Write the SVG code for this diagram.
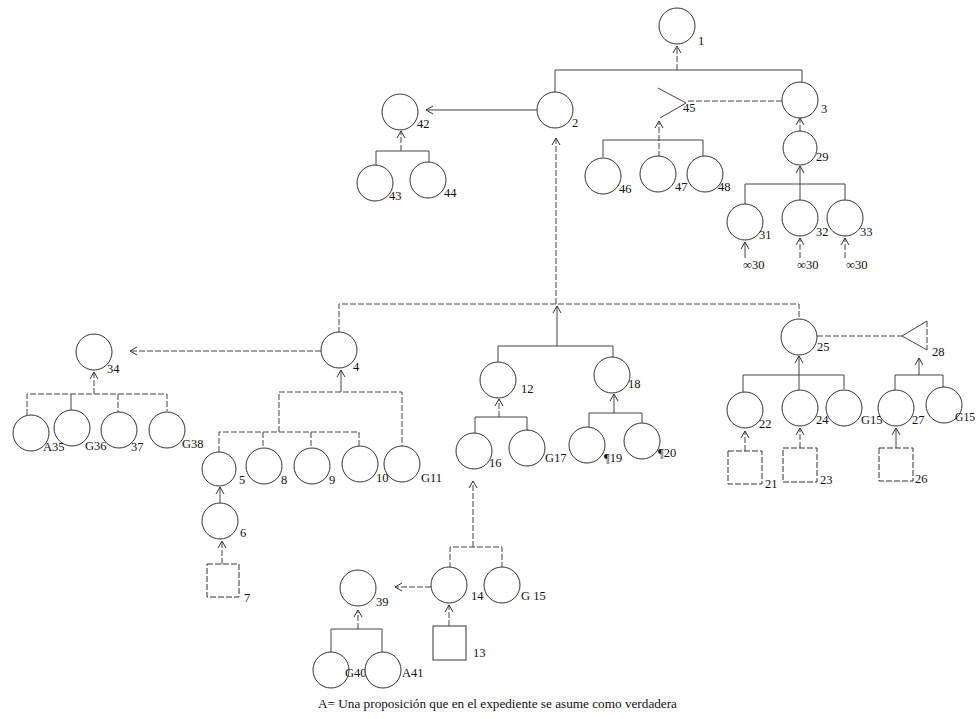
<svg xmlns="http://www.w3.org/2000/svg" width="976" height="719" viewBox="0 0 976 719">
<defs>
<marker id="arr" markerUnits="userSpaceOnUse" markerWidth="10" markerHeight="10" viewBox="0 0 10 10" refX="8" refY="5" orient="auto">
<path d="M1,1 L8,5 L1,9" fill="none" stroke="#333" stroke-width="1"/>
</marker>
<style>
.n{fill:#fff;stroke:#333;stroke-width:1}
.t{font-family:"Liberation Serif","Times New Roman",serif;font-size:12.5px;fill:#111}
.c{fill:none;stroke:#444;stroke-width:1}
.d{stroke-dasharray:6 2}
.a{marker-end:url(#arr)}
</style>
</defs>
<rect width="976" height="719" fill="#fff"/>
<g id="connectors">
<line class="c d a" x1="677" y1="70" x2="677" y2="46"/>
<path class="c" d="M555,92 V70 H802 V82"/>
<line class="c a" x1="537" y1="110" x2="426" y2="110"/>
<line class="c d a" x1="401" y1="151" x2="401" y2="131"/>
<path class="c" d="M376,165 V151 H429 V163"/>
<line class="c d" x1="688" y1="101" x2="782" y2="101"/>
<line class="c d a" x1="659" y1="157" x2="659" y2="121"/>
<path class="c" d="M603,157 V140 H703 V156"/>
<line class="c d a" x1="800" y1="131" x2="800" y2="118"/>
<line class="c a" x1="800" y1="200" x2="800" y2="166"/>
<path class="c" d="M745,204 V184 H845 V200"/>
<line class="c a" x1="745" y1="258" x2="745" y2="242"/>
<line class="c d a" x1="800" y1="258" x2="800" y2="238"/>
<line class="c d a" x1="845" y1="258" x2="845" y2="238"/>
<line class="c d a" x1="556" y1="304" x2="556" y2="138"/>
<path class="c d" d="M339,333 V304 H799 V320"/>
<line class="c a" x1="557" y1="346" x2="557" y2="306"/>
<path class="c" d="M498,363 V346 H613 V358"/>
<line class="c d a" x1="321" y1="351" x2="130" y2="351"/>
<line class="c d a" x1="94" y1="394" x2="94" y2="372"/>
<path class="c d" d="M27,415 V394 H167 V411"/>
<line class="c" x1="71" y1="394" x2="71" y2="410"/>
<line class="c d" x1="118" y1="394" x2="118" y2="412"/>
<line class="c a" x1="341" y1="392" x2="341" y2="370"/>
<path class="c d" d="M279,432 V392 H402 V447"/>
<path class="c d" d="M219,452 V432 H359 V447"/>
<line class="c d" x1="263" y1="432" x2="263" y2="448"/>
<line class="c d" x1="311" y1="432" x2="311" y2="448"/>
<line class="c a" x1="220" y1="504" x2="220" y2="487"/>
<line class="c d a" x1="222" y1="564" x2="222" y2="541"/>
<line class="c d a" x1="499" y1="417" x2="499" y2="399"/>
<path class="c" d="M475,434 V417 H527 V432"/>
<line class="c a" x1="614" y1="413" x2="614" y2="394"/>
<path class="c" d="M589,429 V413 H642 V425"/>
<line class="c d a" x1="473" y1="547" x2="473" y2="481"/>
<path class="c d" d="M450,568 V547 H502 V568"/>
<line class="c d a" x1="431" y1="587" x2="395" y2="587"/>
<line class="c d a" x1="358" y1="629" x2="358" y2="610"/>
<path class="c" d="M331,652 V629 H382 V652"/>
<line class="c d a" x1="449" y1="626" x2="449" y2="605"/>
<line class="c d" x1="817" y1="336" x2="902" y2="336"/>
<line class="c a" x1="799" y1="391" x2="799" y2="356"/>
<path class="c" d="M743,392 V375 H844 V389"/>
<line class="c a" x1="919" y1="375" x2="919" y2="358"/>
<path class="c" d="M895,390 V375 H943 V388"/>
<line class="c d a" x1="745" y1="451" x2="745" y2="431"/>
<line class="c d a" x1="800" y1="448" x2="800" y2="428"/>
<line class="c a" x1="896" y1="448" x2="896" y2="428"/>
</g>
<g id="n1"><circle class="n" cx="677" cy="26" r="18"/><text class="t" x="698" y="45">1</text></g>
<g id="n2"><circle class="n" cx="555" cy="110" r="18"/><text class="t" x="572" y="127">2</text></g>
<g id="n3"><circle class="n" cx="800" cy="100" r="18"/><text class="t" x="821" y="113">3</text></g>
<g id="n42"><circle class="n" cx="400" cy="112" r="18"/><text class="t" x="417" y="128">42</text></g>
<g id="n43"><circle class="n" cx="375" cy="183" r="18"/><text class="t" x="389" y="200">43</text></g>
<g id="n44"><circle class="n" cx="428" cy="180" r="18"/><text class="t" x="444" y="197">44</text></g>
<g id="n45"><polyline class="c" points="658,88 686,103 660,118"/><text class="t" x="683" y="112">45</text></g>
<g id="n46"><circle class="n" cx="603" cy="176" r="18"/><text class="t" x="619" y="193">46</text></g>
<g id="n47"><circle class="n" cx="658" cy="174" r="18"/><text class="t" x="675" y="191">47</text></g>
<g id="n48"><circle class="n" cx="705" cy="174" r="18"/><text class="t" x="718" y="191">48</text></g>
<g id="n29"><circle class="n" cx="800" cy="148" r="17"/><text class="t" x="816" y="161">29</text></g>
<g id="n31"><circle class="n" cx="745" cy="222" r="18"/><text class="t" x="759" y="239">31</text></g>
<g id="n32"><circle class="n" cx="800" cy="218" r="18"/><text class="t" x="816" y="236">32</text></g>
<g id="n33"><circle class="n" cx="845" cy="218" r="18"/><text class="t" x="860" y="236">33</text></g>
<g id="n30a"><text class="t" x="743" y="269">∞30</text></g>
<g id="n30b"><text class="t" x="797" y="269">∞30</text></g>
<g id="n30c"><text class="t" x="846" y="269">∞30</text></g>
<g id="n4"><circle class="n" cx="339" cy="350" r="18"/><text class="t" x="353" y="371">4</text></g>
<g id="n34"><circle class="n" cx="94" cy="352" r="18"/><text class="t" x="107" y="373">34</text></g>
<g id="n35"><circle class="n" cx="31" cy="433" r="18"/><text class="t" x="43" y="451">A35</text></g>
<g id="n36"><circle class="n" cx="72" cy="428" r="18"/><text class="t" x="85" y="450">G36</text></g>
<g id="n37"><circle class="n" cx="119" cy="430" r="18"/><text class="t" x="131" y="451">37</text></g>
<g id="n38"><circle class="n" cx="167" cy="430" r="18"/><text class="t" x="182" y="448">G38</text></g>
<g id="n5"><circle class="n" cx="219" cy="469" r="17"/><text class="t" x="239" y="484">5</text></g>
<g id="n8"><circle class="n" cx="264" cy="466" r="18"/><text class="t" x="281" y="484">8</text></g>
<g id="n9"><circle class="n" cx="312" cy="466" r="18"/><text class="t" x="329" y="484">9</text></g>
<g id="n10"><circle class="n" cx="360" cy="464" r="18"/><text class="t" x="376" y="482">10</text></g>
<g id="n11"><circle class="n" cx="402" cy="464" r="18"/><text class="t" x="421" y="482">G11</text></g>
<g id="n6"><circle class="n" cx="220" cy="521" r="18"/><text class="t" x="240" y="537">6</text></g>
<g id="n7"><rect class="n d" x="207" y="564" width="32" height="33"/><text class="t" x="244" y="602">7</text></g>
<g id="n12"><circle class="n" cx="498" cy="380" r="18"/><text class="t" x="521" y="393">12</text></g>
<g id="n18"><circle class="n" cx="612" cy="375" r="18"/><text class="t" x="628" y="388">18</text></g>
<g id="n16"><circle class="n" cx="474" cy="451" r="18"/><text class="t" x="489" y="467">16</text></g>
<g id="n17"><circle class="n" cx="527" cy="448" r="18"/><text class="t" x="545" y="462">G17</text></g>
<g id="n19"><circle class="n" cx="587" cy="445" r="18"/><text class="t" x="604" y="462">¶19</text></g>
<g id="n20"><circle class="n" cx="642" cy="441" r="18"/><text class="t" x="658" y="457">¶20</text></g>
<g id="n14"><circle class="n" cx="449" cy="585" r="18"/><text class="t" x="471" y="600">14</text></g>
<g id="n15b"><circle class="n" cx="502" cy="585" r="18"/><text class="t" x="521" y="600">G 15</text></g>
<g id="n39"><circle class="n" cx="358" cy="588" r="18"/><text class="t" x="376" y="606">39</text></g>
<g id="n40"><circle class="n" cx="331" cy="670" r="18"/><text class="t" x="345" y="677">G40</text></g>
<g id="n41"><circle class="n" cx="383" cy="670" r="18"/><text class="t" x="402" y="677">A41</text></g>
<g id="n13"><rect class="n" x="433" y="626" width="33" height="34"/><text class="t" x="473" y="657">13</text></g>
<g id="n25"><circle class="n" cx="799" cy="337" r="18"/><text class="t" x="817" y="351">25</text></g>
<g id="n28"><path class="c" d="M927,350 L902,336 L927,321"/><line class="c d" x1="927" y1="321" x2="927" y2="350"/><text class="t" x="932" y="356">28</text></g>
<g id="n22"><circle class="n" cx="745" cy="410" r="18"/><text class="t" x="759" y="428">22</text></g>
<g id="n24"><circle class="n" cx="800" cy="408" r="18"/><text class="t" x="816" y="424">24</text></g>
<g id="n15c"><circle class="n" cx="844" cy="408" r="18"/><text class="t" x="861" y="424">G15</text></g>
<g id="n27"><circle class="n" cx="896" cy="408" r="18"/><text class="t" x="912" y="424">27</text></g>
<g id="n15d"><circle class="n" cx="944" cy="405" r="18"/><text class="t" x="955" y="421" textLength="20" lengthAdjust="spacingAndGlyphs">G15</text></g>
<g id="n21"><rect class="n d" x="728" y="451" width="34" height="33"/><text class="t" x="765" y="488">21</text></g>
<g id="n23"><rect class="n d" x="783" y="448" width="34" height="34"/><text class="t" x="820" y="484">23</text></g>
<g id="n26"><rect class="n d" x="879" y="448" width="34" height="33"/><text class="t" x="915" y="483">26</text></g>
<g id="caption"><text class="t" x="318" y="708" font-size="12" textLength="359" lengthAdjust="spacingAndGlyphs">A= Una proposición que en el expediente se asume como verdadera</text></g>
</svg>
